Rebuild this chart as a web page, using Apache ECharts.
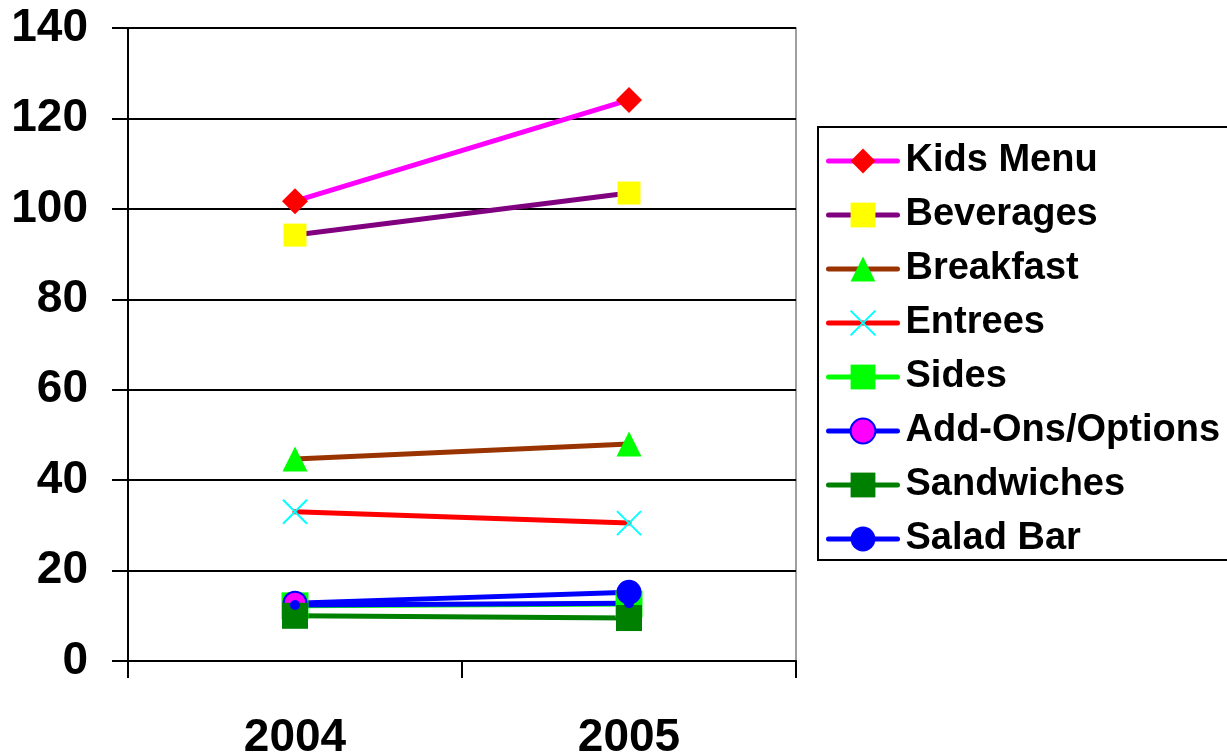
<!DOCTYPE html>
<html>
<head>
<meta charset="utf-8">
<script src="https://cdn.jsdelivr.net/npm/echarts@6/dist/echarts.min.js"></script>
<style>
html,body{margin:0;padding:0;background:#fff;}
#chart{width:1227px;height:755px;}
</style>
</head>
<body>
<div id="chart"></div>
<script>
const categories = ['2004', '2005'];
const seriesNames = ['Kids Menu', 'Beverages', 'Breakfast', 'Entrees', 'Sides', 'Add-Ons/Options', 'Sandwiches', 'Salad Bar'];
const kidsMenu = [101.7, 124.1];
const beverages = [94.2, 103.5];
const breakfast = [44.7, 48.0];
const entrees = [33.0, 30.5];
const sides = [12.2, 12.6];
const addOns = [12.8, 15.2];
const sandwiches = [10.0, 9.5];
const saladBar = [12.4, 12.8];
const yTicks = [0, 20, 40, 60, 80, 100, 120, 140];

const FONT = '"Liberation Sans", Arial, sans-serif';
const xPath = 'path://M0,0 L10,10 M10,0 L0,10';

const styles = [
  {line: '#FF00FF', symbol: 'diamond', size: 26, fill: '#FF0000'},
  {line: '#800080', symbol: 'rect', size: 23, fill: '#FFFF00'},
  {line: '#993300', symbol: 'triangle', size: 25, fill: '#00FF00'},
  {line: '#FF0000', symbol: xPath, size: 24, fill: 'none', stroke: '#00FFFF', bw: 2},
  {line: '#00FF00', symbol: 'rect', size: 27, fill: '#00FF00'},
  {line: '#0000FF', symbol: 'circle', size: 23, fill: '#FF00FF', stroke: '#0000FF', bw: 2},
  {line: '#008000', symbol: 'rect', size: 26, fill: '#008000'},
  {line: '#0000FF', symbol: 'circle', size: 10, fill: '#0000FF'}
];
const values = [kidsMenu, beverages, breakfast, entrees, sides, addOns, sandwiches, saladBar];

const series = seriesNames.map((name, i) => {
  const s = styles[i];
  let data = values[i].slice();
  if (i === 5) {
    data = data.map((v, j) => j === 1 ? {value: v, itemStyle: {color: '#0000FF'}} : v);
  }
  return {
    name: name,
    type: 'line',
    data: data,
    symbol: s.symbol,
    symbolSize: s.size,
    showAllSymbol: true,
    animation: false,
    lineStyle: {color: s.line, width: 5, cap: 'round'},
    itemStyle: {
      color: s.fill,
      borderColor: s.stroke || s.fill,
      borderWidth: s.bw || 0,
      opacity: 1
    },
    emphasis: {disabled: true}
  };
});

const chart = echarts.init(document.getElementById('chart'), null, {renderer: 'canvas'});
chart.setOption({
  backgroundColor: '#ffffff',
  animation: false,
  grid: {
    left: 128, right: 431, top: 28, bottom: 94,
    outerBoundsMode: 'none',
    containLabel: false,
    show: true, borderColor: '#808080', borderWidth: 1.5, backgroundColor: 'transparent'
  },
  xAxis: {
    type: 'category',
    data: categories,
    boundaryGap: true,
    axisLine: {show: true, lineStyle: {color: '#000', width: 2}},
    axisTick: {show: true, length: 17, inside: false, alignWithLabel: false, lineStyle: {color: '#000', width: 2}},
    axisLabel: {fontSize: 46, fontWeight: 'bold', color: '#000', fontFamily: FONT, margin: 54},
    splitLine: {show: false}
  },
  yAxis: {
    type: 'value',
    min: yTicks[0],
    max: yTicks[yTicks.length - 1],
    interval: 20,
    axisLine: {show: true, lineStyle: {color: '#000', width: 2}},
    axisTick: {show: true, length: 16, inside: false, lineStyle: {color: '#000', width: 2}},
    axisLabel: {fontSize: 46, fontWeight: 'bold', color: '#000', fontFamily: FONT, margin: 40},
    splitLine: {show: true, lineStyle: {color: '#000', width: 2}}
  },
  legend: {
    show: true,
    orient: 'vertical',
    left: 818,
    top: 127,
    padding: [15, 40, 2, 8],
    borderColor: '#000',
    borderWidth: 2,
    itemWidth: 69,
    itemHeight: 31,
    itemGap: 16,
    selectedMode: false,
    data: seriesNames,
    lineStyle: {width: 5, cap: 'round'},
    textStyle: {fontSize: 38, fontWeight: 'bold', color: '#000', fontFamily: FONT, padding: [0, 0, 0, 3]},
  },
  series: series
});
</script>
</body>
</html>
